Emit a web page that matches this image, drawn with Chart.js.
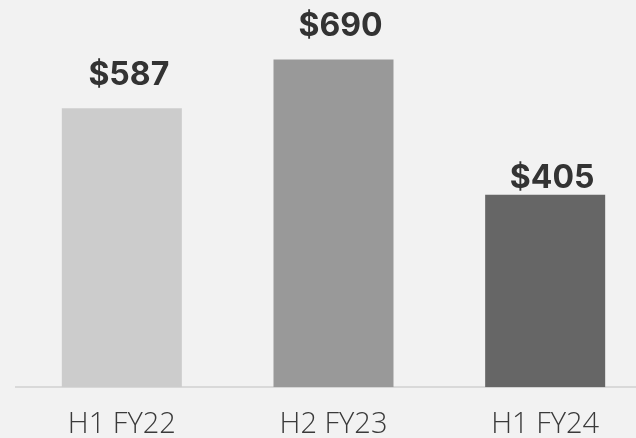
<!DOCTYPE html>
<html>
<head>
<meta charset="utf-8">
<script src="https://cdn.jsdelivr.net/npm/chart.js@4"></script>
<style>
  html, body { margin: 0; padding: 0; background: #f2f2f2; overflow: hidden; }
  #wrap { width: 636px; height: 438px; overflow: hidden; }
</style>
</head>
<body>
<div id="wrap"><canvas id="myChart" width="651" height="454"></canvas></div>
<script>
"use strict";

const periods = ["H1 FY22", "H2 FY23", "H1 FY24"];
const revenue = [587, 690, 405];
const barColors = ["#cccccc", "#999999", "#666666"];

// value labels over each bar
const valueLabels = {
  id: "valueLabels",
  afterDatasetsDraw(chart, args, opts) {
    const ctx = chart.ctx;
    const meta = chart.getDatasetMeta(0);
    ctx.save();
    ctx.font = opts.font;
    ctx.fillStyle = opts.color;
    ctx.textAlign = "center";
    ctx.textBaseline = "alphabetic";
    meta.data.forEach((bar, i) => {
      let gap = opts.gaps[i];
      ctx.fillText("$" + revenue[i], bar.x + opts.shiftX, bar.y - gap);
    });
    ctx.restore();
  },
};

const data = {
  labels: periods,
  datasets: [
    {
      data: revenue,
      backgroundColor: barColors,
      borderWidth: 0,
      barPercentage: 0.567,
      categoryPercentage: 1,
    },
  ],
};

const config = {
  type: "bar",
  data: data,
  options: {
    responsive: false,
    animation: false,
    devicePixelRatio: 1,
    layout: { padding: { left: 16, right: 0, top: 0, bottom: 0 } },
    plugins: {
      legend: { display: false },
      tooltip: { enabled: false },
      valueLabels: {
        font: "bold 32px Inter",
        color: "#333333",
        shiftX: 7,
        gaps: [23, 23, 7],
      },
    },
    scales: {
      x: {
        grid: { display: false },
        border: { display: true, color: "#d9d9d9", width: 2 },
        ticks: {
          color: "#3a3a3a",
          font: { family: "Open Sans", size: 29, weight: "300" },
          padding: 12,
          maxRotation: 0,
        },
      },
      y: {
        display: false,
        min: 0,
        max: 815,
      },
    },
  },
  plugins: [valueLabels],
};

const canvasChart = document.getElementById("myChart");
new Chart(canvasChart, config);
</script>
</body>
</html>
